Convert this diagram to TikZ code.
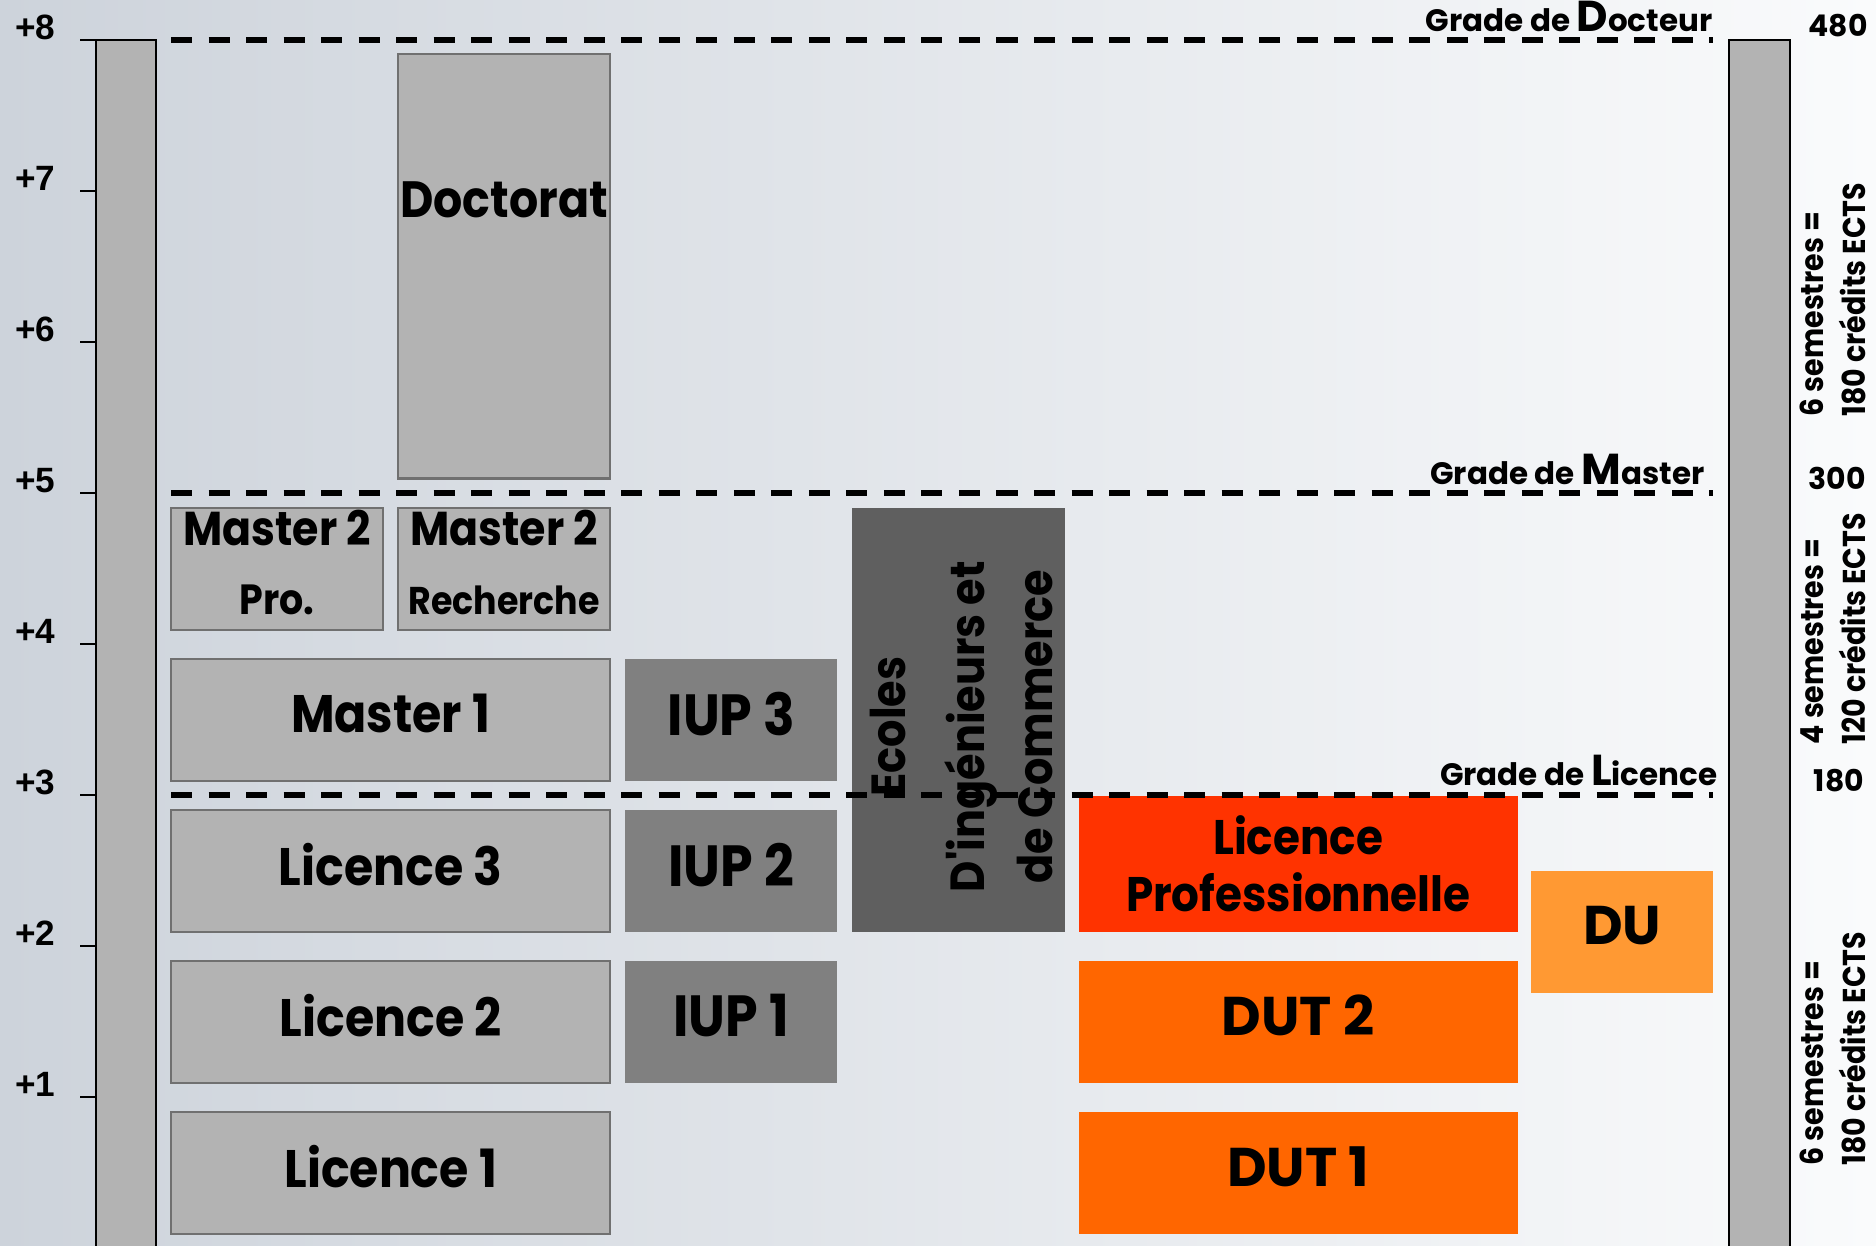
\documentclass[tikz,border=0pt]{standalone}
\usepackage{fontspec}
\setmainfont{Poppins}
\newfontfamily\etroitefam[FakeStretch=0.9]{Poppins}
\newfontfamily\axefam{Liberation Sans}
\usetikzlibrary{positioning}
\definecolor{grisclair}{HTML}{B3B3B3}
\definecolor{grisbord}{HTML}{707070}
\definecolor{grismoyen}{HTML}{808080}
\definecolor{grisfonce}{HTML}{5F5F5F}
\definecolor{rougelp}{HTML}{FF3300}
\definecolor{orangedut}{HTML}{FF6600}
\definecolor{orangedu}{HTML}{FF9933}
\definecolor{fondgauche}{HTML}{CDD3DB}
\definecolor{fondmilieu}{HTML}{E6E9EC}
\definecolor{fonddroite}{HTML}{FAFBFC}
\newcommand\grandeinitiale[1]{{\fontsize{12.3}{14}\selectfont #1}}
\tikzset{caisse/.style={minimum height=1.215cm, inner sep=0pt, outer sep=0pt, align=center}}
\tikzset{petite/.style={caisse, minimum width=2.12cm}}
\tikzset{longue/.style={caisse, minimum width=4.39cm}}
\tikzset{univ/.style={fill=grisclair, draw=grisbord, line width=0.6pt, text depth=0.13cm, font=\etroitefam\bfseries\fontsize{15}{18}\selectfont}}
\tikzset{iup/.style={fill=grismoyen, text depth=0.13cm, font=\etroitefam\bfseries\fontsize{16.5}{18}\selectfont}}
\tikzset{dut/.style={fill=orangedut, text depth=0.13cm, font=\bfseries\fontsize{15.5}{18}\selectfont}}
\tikzset{grade/.style={dash pattern=on 0.21cm off 0.165cm, line width=0.055cm}}
\tikzset{gradetxt/.style={anchor=base east, inner sep=0pt, font=\bfseries\fontsize{8.8}{11}\selectfont}}
\tikzset{ects/.style={inner sep=0pt, font=\bfseries\fontsize{8.5}{10}\selectfont}}
\tikzset{credits/.style={rotate=90, anchor=west, align=left, inner sep=0pt, font=\etroitefam\bfseries\fontsize{9}{11.8}\selectfont}}
\tikzset{barre/.style={fill=grisclair, draw=black, line width=0.6pt}}
\tikzset{annee/.style={anchor=base east, inner sep=0pt, font=\axefam\bfseries\fontsize{10}{12}\selectfont}}

\begin{document}
\begin{tikzpicture}[x=0.01cm, y=0.01cm, node distance=0.295cm and 0.15cm]
\useasboundingbox (0,0) rectangle (1876,1246);
\shade[left color=fondgauche, middle color=fondmilieu, right color=fonddroite] (0,0) rectangle (1876,1246);

\draw[barre] (96,-10) rectangle (156,1206);
\draw[barre] (1729,-10) rectangle (1790,1206);
\foreach \a in {1,...,8}{
  \draw[line width=0.6pt] (80,151*\a-2) -- (96,151*\a-2);
  \node[annee] (an\a) at (56,151*\a-2) {+\a};
}

\node[longue, univ, anchor=south west] (l1) at (171,12) {Licence 1};
\node[longue, univ, above=of l1] (l2) {Licence 2};
\node[longue, univ, above=of l2] (l3) {Licence 3};
\node[longue, univ, above=of l3] (m1) {Master 1};
\node[petite, univ, above=of m1.north west, anchor=south west, font=\etroitefam\bfseries\fontsize{13.5}{19.5}\selectfont] (m2pro) {Master 2\\{\fontsize{12}{19.5}\selectfont Pro.}};
\node[petite, univ, right=of m2pro, font=\etroitefam\bfseries\fontsize{13.5}{19.5}\selectfont] (m2rech) {Master 2\\{\fontsize{11}{19.5}\selectfont Recherche}};
\node[petite, univ, minimum height=4.24cm, above=of m2rech] (doct) {};
\node[inner sep=0pt, below=1.27cm of doct.north, font=\etroitefam\bfseries\fontsize{14.5}{18}\selectfont] (doctxt) {Doctorat};

\node[petite, iup, right=of l2] (iup1) {IUP 1};
\node[petite, iup, right=of l3] (iup2) {IUP 2};
\node[petite, iup, right=of m1] (iup3) {IUP 3};
\node[petite, fill=grisfonce, minimum height=4.24cm, right=of iup2.south east, anchor=south west] (ecoles) {};
\node[rotate=90, align=center, inner sep=0pt, font=\etroitefam\bfseries\fontsize{13.6}{19.5}\selectfont] (ecolestxt) at ([xshift=0.03cm,yshift=-0.07cm]ecoles.center) {Ecoles\\[3pt]D'ingénieurs et\\de Commerce};

\node[longue, fill=rougelp, minimum height=1.36cm, right=0.14cm of ecoles.south east, anchor=south west, font=\etroitefam\bfseries\fontsize{13.8}{16}\selectfont] (lp) {Licence\\Professionnelle};
\node[longue, dut, below=of lp] (dut2) {DUT 2};
\node[longue, dut, below=of dut2] (dut1) {DUT 1};
\node[caisse, dut, fill=orangedu, minimum width=1.82cm, anchor=north west] (du) at (1531,375) {DU};

\foreach \y in {8,5,3}
  \draw[grade] (171,151*\y-2) -- (1713,151*\y-2);

\node[gradetxt] (gdoc) at (1713,1214) {Grade de \grandeinitiale{D}octeur};
\node[gradetxt] (gmas) at (1705,761) {Grade de \grandeinitiale{M}aster};
\node[gradetxt] (glic) at (1718,460) {Grade de \grandeinitiale{L}icence};

\node[ects] (e480) at (1838,1220) {480};
\node[ects] (e300) at (1837,768) {300};
\node[ects] (e180) at (1839,465) {180};

\node[credits] (cdoc) at (1833,829) {6 semestres =\\180 crédits ECTS};
\node[credits] (cmas) at (1833,501) {4 semestres =\\120 crédits ECTS};
\node[credits] (clic) at (1833,80) {6 semestres =\\180 crédits ECTS};
\end{tikzpicture}
\end{document}
